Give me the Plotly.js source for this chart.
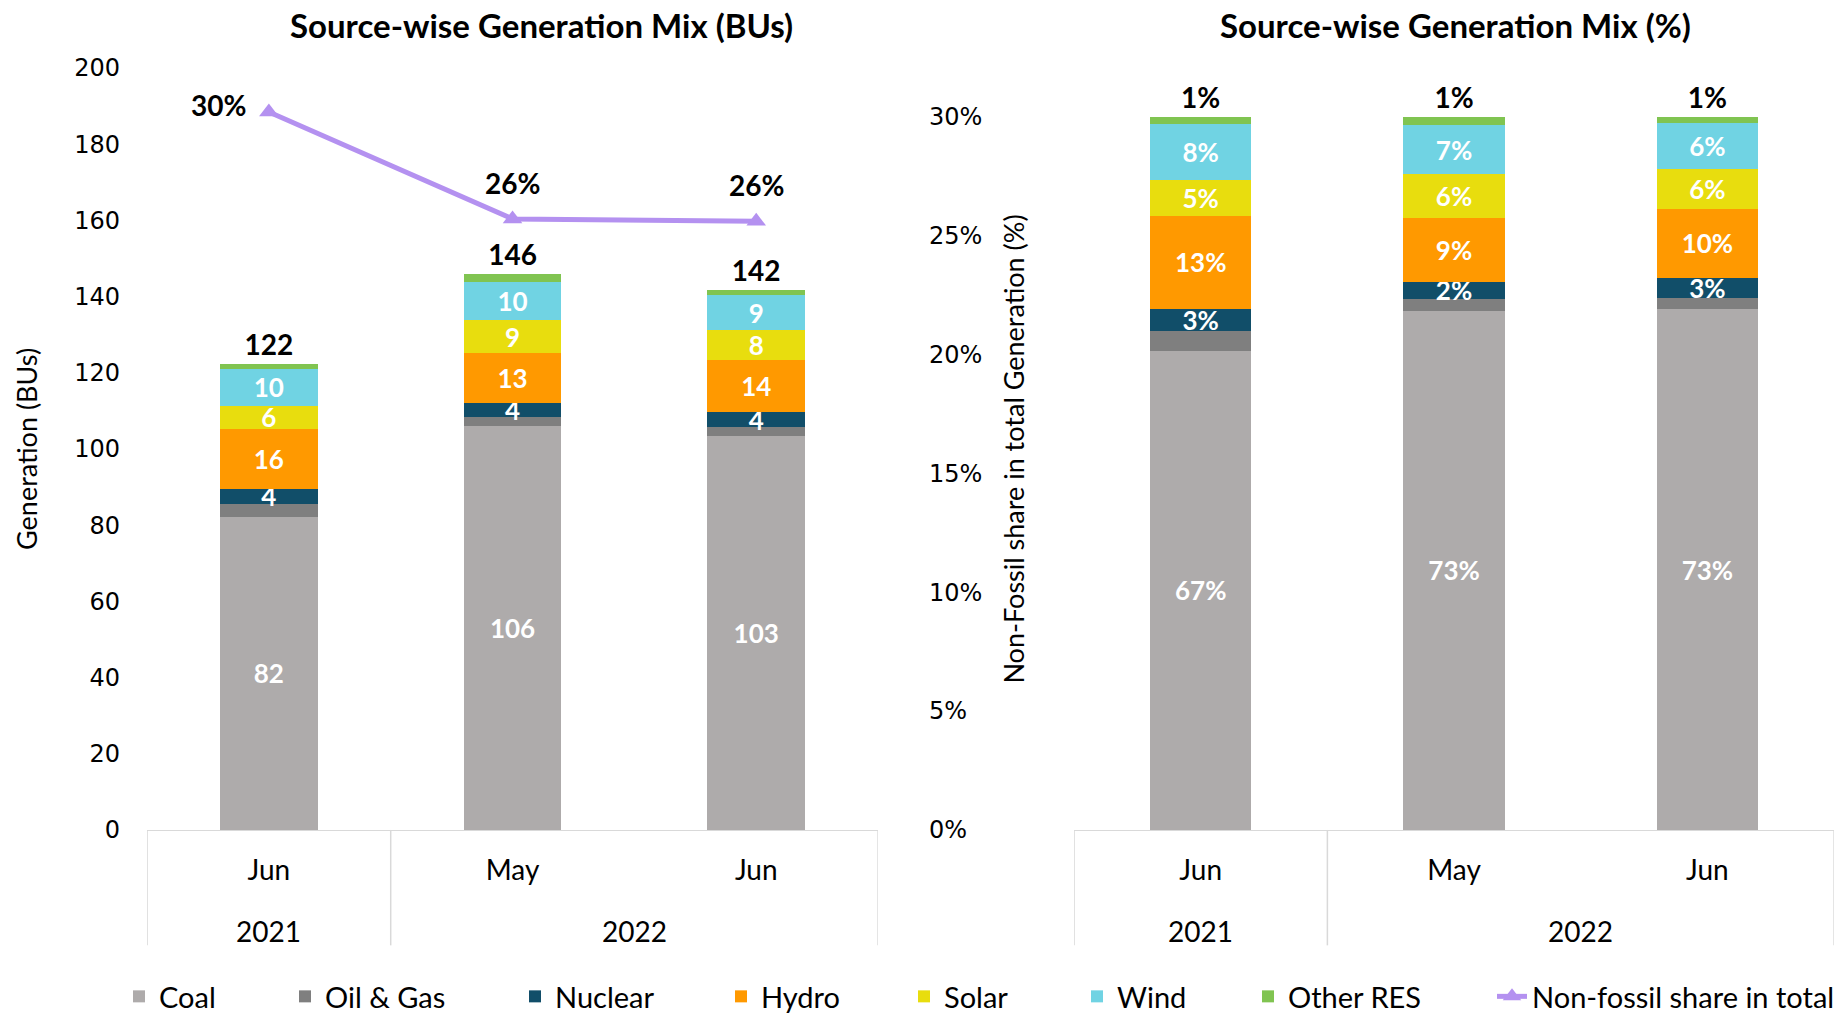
<!DOCTYPE html>
<html><head><meta charset="utf-8">
<script src="https://cdn.plot.ly/plotly-3.0.1.min.js"></script>
<style>html,body{margin:0;padding:0;background:#fff}#chart{width:1847px;height:1022px}</style>
</head><body><div id="chart"></div>
<script>
// ---- data ----
const years = ["2021", "2022", "2022"];
const months = ["Jun", "May", "Jun"];
const seriesNames = ["Coal", "Oil & Gas", "Nuclear", "Hydro", "Solar", "Wind", "Other RES"];
const lineName = "Non-fossil share in total";

// Generation in BUs
const coalBU    = [82.2, 105.9, 103.4];
const oilGasBU  = [3.4, 2.6, 2.3];
const nuclearBU = [4.0, 3.6, 3.9];
const hydroBU   = [15.6, 13.0, 13.7];
const solarBU   = [6.2, 8.7, 8.0];
const windBU    = [9.6, 10.0, 9.0];
const otherBU   = [1.2, 2.0, 1.4];
const totalBU   = [122, 146, 142];
const nonFossilShare = [0.302, 0.257, 0.256];

// Generation mix in share of total
const coalPct    = [0.672, 0.728, 0.730];
const oilGasPct  = [0.027, 0.017, 0.016];
const nuclearPct = [0.031, 0.023, 0.028];
const hydroPct   = [0.131, 0.090, 0.097];
const solarPct   = [0.050, 0.061, 0.056];
const windPct    = [0.079, 0.069, 0.064];
const otherPct   = [0.010, 0.012, 0.009];

// ---- styling ----
const FONT = "Lato, 'Open Sans', sans-serif";
const TICKFONT = "'DejaVu Sans', sans-serif";
const colors = ["#AEABAB", "#7F7F7F", "#114E69", "#FF9900", "#E8DD0E", "#70D3E3", "#80C451"];
const lineColor = "#B491F0";
const buSeries = [coalBU, oilGasBU, nuclearBU, hydroBU, solarBU, windBU, otherBU];
const pctSeries = [coalPct, oilGasPct, nuclearPct, hydroPct, solarPct, windPct, otherPct];
const xKeys = months.map((m, i) => m + " " + years[i]);

const labelFont = {family: FONT, size: 26, color: "#ffffff", weight: "bold"};
const topFont = {family: FONT, size: 28, color: "#000000", weight: "bold"};
// legend placement (text start, px) for each entry
const legendTextStart = [161, 327, 557, 763, 946, 1119, 1290, 1534];
const legendIds = ["legend", "legend2", "legend3", "legend4", "legend5", "legend6", "legend7", "legend8"];

const traces = [];
seriesNames.forEach((name, i) => {
  const isTop = i === seriesNames.length - 1;
  const hideLabel = i === 1;
  traces.push({
    type: "bar", name: name, x: xKeys, y: buSeries[i], xaxis: "x", yaxis: "y",
    marker: {color: colors[i]}, legendgroup: name, legend: legendIds[i],
    text: isTop ? totalBU : undefined,
    texttemplate: isTop ? "%{text}" : (hideLabel ? "" : "%{y:.0f}"),
    textposition: isTop ? "outside" : "inside",
    insidetextanchor: "middle", textangle: 0, constraintext: "none",
    insidetextfont: labelFont, outsidetextfont: topFont, cliponaxis: false,
    hoverinfo: "skip"
  });
});
seriesNames.forEach((name, i) => {
  const isTop = i === seriesNames.length - 1;
  const hideLabel = i === 1;
  traces.push({
    type: "bar", name: name, x: xKeys, y: pctSeries[i], xaxis: "x2", yaxis: "y3",
    marker: {color: colors[i]}, legendgroup: name, showlegend: false,
    texttemplate: hideLabel ? "" : "%{y:.0%}",
    textposition: isTop ? "outside" : "inside",
    insidetextanchor: "middle", textangle: 0, constraintext: "none",
    insidetextfont: labelFont, outsidetextfont: topFont, cliponaxis: false,
    hoverinfo: "skip"
  });
});
traces.push({
  type: "scatter", mode: "lines+markers", name: lineName, legend: legendIds[7],
  x: xKeys, y: nonFossilShare, xaxis: "x", yaxis: "y2",
  line: {color: lineColor, width: 5},
  marker: {symbol: "triangle-up", size: 17, color: lineColor},
  cliponaxis: false, hoverinfo: "skip"
});

// line point labels (offsets in px)
const lineLabelShift = [[-50, 7], [0, 36], [0, 36]];
const annotations = nonFossilShare.map((v, i) => ({
  xref: "x", yref: "y2", x: xKeys[i], y: v, text: Math.round(v * 100) + "%",
  showarrow: false, xanchor: "center", yanchor: "middle",
  xshift: lineLabelShift[i][0], yshift: lineLabelShift[i][1], font: topFont
}));

// year group labels and box lines for both category axes
const shapes = [];
const yearGroups = [];
years.forEach((y, i) => {
  const last = yearGroups[yearGroups.length - 1];
  if (last && last.year === y) last.end = i; else yearGroups.push({year: y, start: i, end: i});
});
const BOX_BOTTOM = 0.075, AXIS_Y = 0.1879, YEAR_Y = 0.089;
["x", "x2"].forEach(xr => {
  yearGroups.forEach(g => {
    annotations.push({xref: xr, yref: "paper", x: (g.start + g.end) / 2, y: YEAR_Y, text: g.year,
      showarrow: false, xanchor: "center", yanchor: "middle", font: {family: FONT, size: 28, color: "#000"}});
  });
  const bounds = [-0.5].concat(yearGroups.map(g => g.end + 0.5));
  bounds.forEach(b => shapes.push({type: "line", xref: xr, yref: "paper", x0: b, x1: b, y0: BOX_BOTTOM, y1: AXIS_Y,
    line: {color: "#D9D9D9", width: 1.5}}));
});

annotations.push(
  {text: "Source-wise Generation Mix (BUs)", xref: "paper", yref: "paper", x: 0.2934, y: 0.9755,
   xanchor: "center", yanchor: "middle", showarrow: false,
   font: {family: FONT, size: 33, color: "#000", weight: "bold"}},
  {text: "Source-wise Generation Mix (%)", xref: "paper", yref: "paper", x: 0.7883, y: 0.9755,
   xanchor: "center", yanchor: "middle", showarrow: false,
   font: {family: FONT, size: 33, color: "#000", weight: "bold"}}
);

const catAxis = {
  type: "category", tickvals: xKeys, ticktext: months, range: [-0.5, 2.5],
  showline: true, linecolor: "#D9D9D9", linewidth: 1.5,
  tickfont: {family: FONT, size: 28, color: "#000"}, showgrid: false, zeroline: false,
  ticks: "", ticklabelstandoff: 15
};

const layout = {
  width: 1847, height: 1022,
  margin: {l: 0, r: 0, t: 0, b: 0},
  paper_bgcolor: "#ffffff", plot_bgcolor: "rgba(0,0,0,0)",
  barmode: "stack", bargap: 0.6,
  font: {family: FONT, color: "#000"},
  showlegend: true,
  xaxis: Object.assign({}, catAxis, {domain: [0.0796, 0.4754], anchor: "y"}),
  yaxis: {domain: [AXIS_Y, 0.9335], range: [0, 200], dtick: 20, showgrid: false, zeroline: false,
          showline: false, ticks: "", ticklabelstandoff: 26,
          tickfont: {family: TICKFONT, size: 24, color: "#000"},
          title: {text: "Generation (BUs)", font: {family: FONT, size: 27, color: "#000"}, standoff: 28}},
  yaxis2: {overlaying: "y", side: "right", anchor: "free", position: 0.5024,
           range: [0, 0.3205], dtick: 0.05, tickformat: ".0%", showgrid: false, zeroline: false,
           showline: false, ticks: "",
           tickfont: {family: TICKFONT, size: 24, color: "#000"},
           title: {text: "Non-Fossil share in total Generation (%)", font: {family: FONT, size: 27, color: "#000"}, standoff: 23}},
  xaxis2: Object.assign({}, catAxis, {domain: [0.5815, 0.993], anchor: "y3"}),
  yaxis3: {domain: [AXIS_Y, 0.8859], range: [0, 1], visible: false, anchor: "x2"},
  annotations: annotations,
  shapes: shapes
};
legendIds.forEach((id, i) => {
  layout[id] = {x: (legendTextStart[i] - 42) / 1847, xanchor: "left", y: 0, yanchor: "bottom",
    orientation: "h", bgcolor: "rgba(0,0,0,0)", font: {family: FONT, size: 29, color: "#000"}};
});

Plotly.newPlot("chart", traces, layout, {displayModeBar: false, staticPlot: true});
</script>
</body></html>
